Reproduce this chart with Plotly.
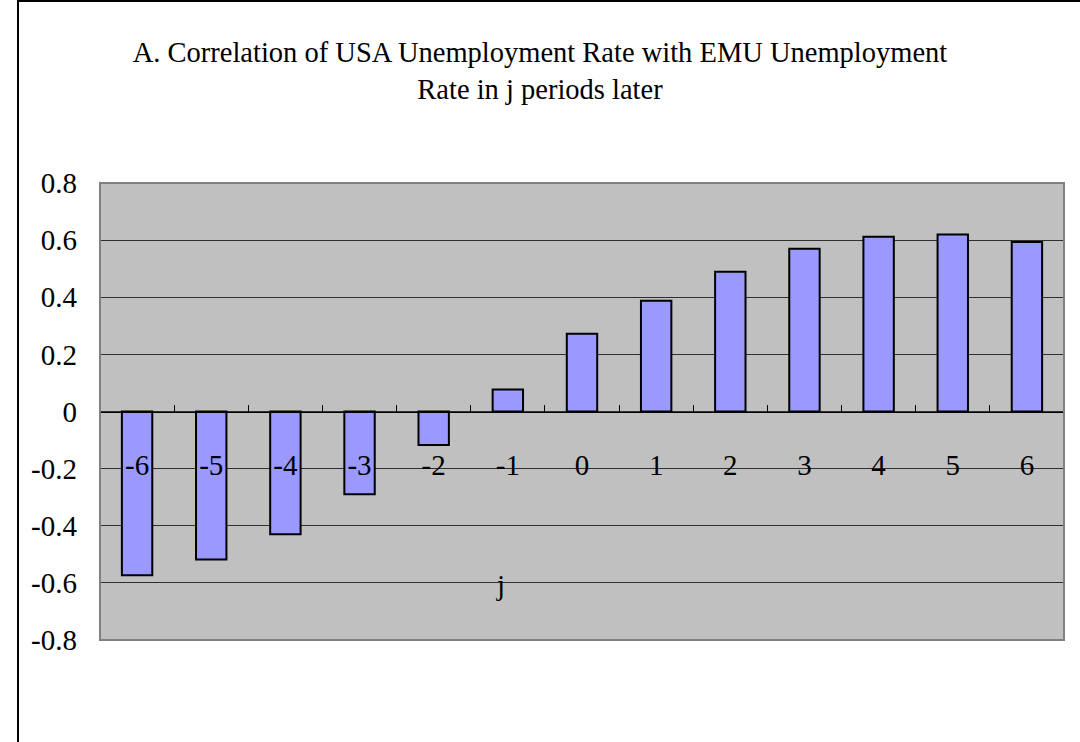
import plotly.graph_objects as go

# Lag j (periods) and correlation of USA unemployment with EMU unemployment j periods later
lags = ["-6", "-5", "-4", "-3", "-2", "-1", "0", "1", "2", "3", "4", "5", "6"]
corr = [-0.573, -0.518, -0.430, -0.290, -0.117, 0.077, 0.272, 0.388, 0.489, 0.570, 0.612, 0.620, 0.593]
y_ticks = [0.8, 0.6, 0.4, 0.2, 0, -0.2, -0.4, -0.6, -0.8]
y_tick_text = ["0.8", "0.6", "0.4", "0.2", "0", "-0.2", "-0.4", "-0.6", "-0.8"]

FONT = "Liberation Serif"

fig = go.Figure(
    go.Bar(
        x=lags,
        y=corr,
        width=0.41,
        marker=dict(color="#9999FF", line=dict(color="black", width=2)),
    )
)

fig.update_layout(
    width=1080,
    height=742,
    margin=dict(l=100, r=16, t=183, b=102),
    paper_bgcolor="white",
    plot_bgcolor="#C0C0C0",
    showlegend=False,
    font=dict(family=FONT, color="black", size=29),
    title=dict(
        text="A. Correlation of USA Unemployment Rate with EMU Unemployment<br>Rate in j periods later",
        x=0.5,
        xref="container",
        xanchor="center",
        y=1 - 62 / 742,
        yref="container",
        yanchor="middle",
        font=dict(family=FONT, size=28.5, color="black"),
    ),
    xaxis=dict(
        type="category",
        anchor="free",
        position=0.5,
        showline=True,
        linecolor="black",
        linewidth=1,
        ticks="inside",
        ticklen=7,
        tickcolor="black",
        tickson="boundaries",
        ticklabelstandoff=28,
        showgrid=False,
        tickfont=dict(family=FONT, size=29),
    ),
    yaxis=dict(
        range=[-0.8, 0.8],
        tickvals=y_ticks,
        ticktext=y_tick_text,
        showgrid=True,
        gridcolor="#303030",
        gridwidth=1,
        zeroline=False,
        showline=False,
        ticks="",
        ticklabelstandoff=22,
        tickfont=dict(family=FONT, size=29),
    ),
    annotations=[
        dict(
            text="j",
            xref="paper",
            yref="paper",
            x=(500 - 100) / 964,
            y=(640 - 585) / 457,
            yanchor="middle",
            showarrow=False,
            font=dict(family=FONT, size=29),
        )
    ],
    shapes=[
        # plot area frame
        dict(type="rect", xref="paper", yref="paper", x0=0, y0=0, x1=1, y1=1,
             line=dict(color="#808080", width=2), layer="above"),
        # chart area frame
        dict(type="rect", xref="paper", yref="paper",
             x0=(18 - 100) / 964, y0=-0.5, x1=1.2, y1=(640 - 1) / 457,
             line=dict(color="black", width=2), layer="below"),
    ],
)

fig.write_html("out.html")
